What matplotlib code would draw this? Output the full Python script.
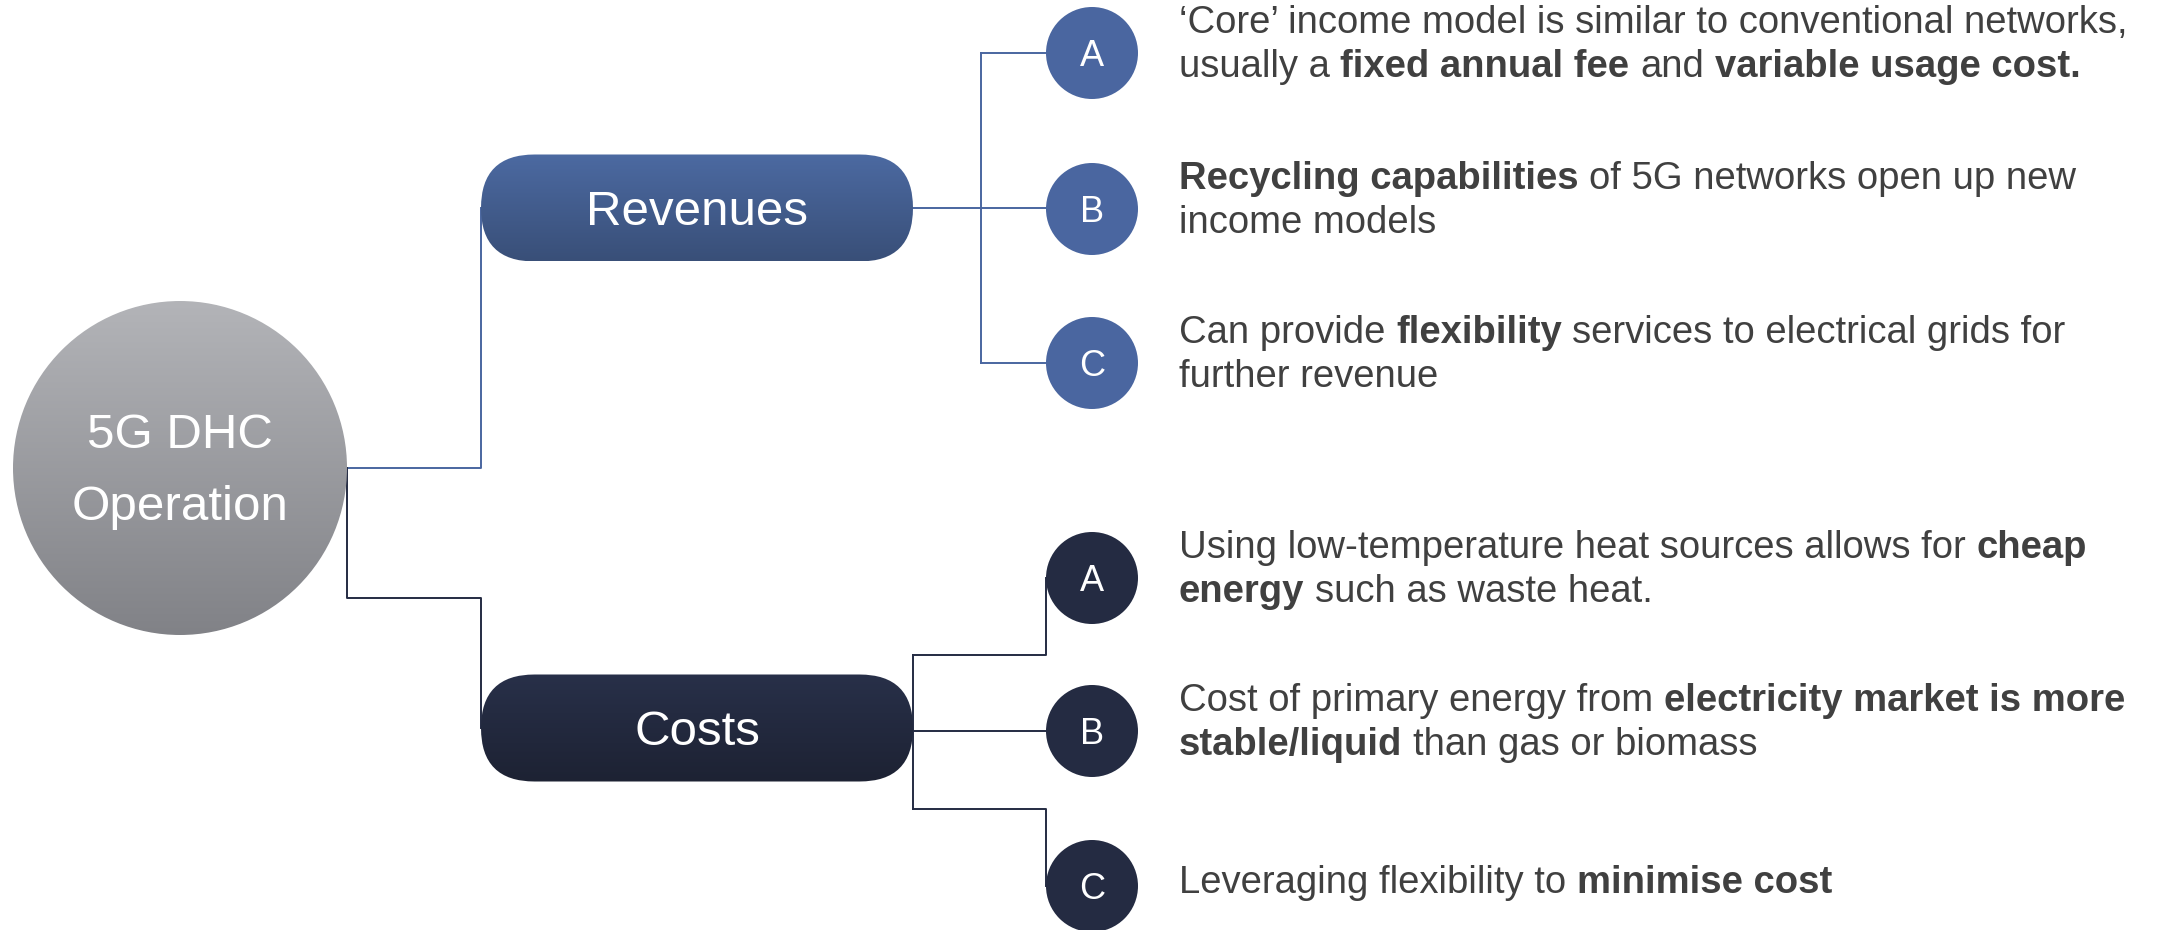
import numpy as np
import matplotlib.pyplot as plt
from matplotlib.patches import Circle, FancyBboxPatch
from matplotlib.colors import LinearSegmentedColormap

plt.rcParams['font.family'] = ['Liberation Sans', 'DejaVu Sans']

# ---- content ----
root_label = ['5G DHC', 'Operation']
branch_labels = ['Revenues', 'Costs']
item_letters = ['A', 'B', 'C']
# **...** marks the bold part of a line
revenue_items = [
    ["\u2018Core\u2019 income model is similar to conventional networks,",
     "usually a **fixed annual fee** and **variable usage cost.**"],
    ["**Recycling capabilities** of 5G networks open up new",
     "income models"],
    ["Can provide **flexibility** services to electrical grids for",
     "further revenue"],
]
cost_items = [
    ["Using low-temperature heat sources allows for **cheap**",
     "**energy** such as waste heat."],
    ["Cost of primary energy from **electricity market is more**",
     "**stable/liquid** than gas or biomass"],
    ["Leveraging flexibility to **minimise cost**"],
]

# ---- layout (pixels) ----
W, H = 2177, 930
root_xy, root_r = (180, 468), 167
pill_x0, pill_x1, pill_h = 481, 913, 107
pill_y = [208, 728]
dot_x, dot_r = 1092, 46
rev_dot_y = [53, 209, 363]
cost_dot_y = [578, 731, 886]
text_x = 1179

blue = '#4a66a0'
navy = '#242b42'
text_col = '#404040'

fig = plt.figure(figsize=(W / 100, H / 100), dpi=100)
ax = fig.add_axes([0, 0, 1, 1])
ax.set_xlim(0, W)
ax.set_ylim(H, 0)
ax.axis('off')


def grad_fill(patch, top, bottom, box, z=3):
    patch.set_facecolor('none')
    patch.set_edgecolor('none')
    patch.set_zorder(z)
    ax.add_patch(patch)
    cmap = LinearSegmentedColormap.from_list('g', [top, bottom])
    grad = np.linspace(0, 1, 256).reshape(-1, 1)
    x0, x1, y0, y1 = box
    im = ax.imshow(grad, cmap=cmap, extent=(x0, x1, y1, y0), aspect='auto',
                   origin='upper', zorder=z)
    im.set_clip_path(patch)


# connectors
lw = 1.4
ax.plot([root_xy[0] + root_r, pill_x0, pill_x0], [root_xy[1], root_xy[1], pill_y[0]],
        color=blue, lw=lw, zorder=1)
ax.plot([root_xy[0] + root_r, root_xy[0] + root_r, pill_x0, pill_x0],
        [root_xy[1], 598, 598, pill_y[1]], color=navy, lw=lw, zorder=1)

# revenues: comb
ax.plot([pill_x1, dot_x], [pill_y[0], pill_y[0]], color=blue, lw=lw, zorder=1)
ax.plot([981, 981], [rev_dot_y[0], rev_dot_y[2]], color=blue, lw=lw, zorder=1)
for yy in (rev_dot_y[0], rev_dot_y[2]):
    ax.plot([981, dot_x], [yy, yy], color=blue, lw=lw, zorder=1)

# costs: elbows
ax.plot([pill_x1, pill_x1], [655, 809], color=navy, lw=lw, zorder=1)
ax.plot([pill_x1, dot_x], [cost_dot_y[1], cost_dot_y[1]], color=navy, lw=lw, zorder=1)
ax.plot([pill_x1, dot_x - dot_r, dot_x - dot_r], [655, 655, cost_dot_y[0]], color=navy, lw=lw, zorder=1)
ax.plot([pill_x1, dot_x - dot_r, dot_x - dot_r], [809, 809, cost_dot_y[2]], color=navy, lw=lw, zorder=1)

# root circle
cx, cy = root_xy
grad_fill(Circle(root_xy, root_r), '#b3b4b8', '#818287',
          (cx - root_r, cx + root_r, cy - root_r, cy + root_r))
ax.text(cx, 448, root_label[0], color='white', fontsize=35.5, ha='center', va='baseline', zorder=5)
ax.text(cx, 520, root_label[1], color='white', fontsize=35.5, ha='center', va='baseline', zorder=5)

# branch pills
pill_cols = [('#4c6aa2', '#394f78'), ('#283049', '#1d2233')]
for label, yc, (c_top, c_bot) in zip(branch_labels, pill_y, pill_cols):
    y0 = yc - pill_h / 2
    pill = FancyBboxPatch((pill_x0, y0), pill_x1 - pill_x0, pill_h,
                          boxstyle=f'round,pad=0,rounding_size={pill_h / 2}')
    grad_fill(pill, c_top, c_bot, (pill_x0, pill_x1, y0, y0 + pill_h))
    ax.text((pill_x0 + pill_x1) / 2, yc + 17, label, color='white', fontsize=35.5,
            ha='center', va='baseline', zorder=5)

# letter dots
for ys, col in ((rev_dot_y, blue), (cost_dot_y, navy)):
    for letter, yy in zip(item_letters, ys):
        ax.add_patch(Circle((dot_x, yy), dot_r, facecolor=col, edgecolor='none', zorder=3))
        ax.text(dot_x, yy + 13, letter, color='white', fontsize=26,
                ha='center', va='baseline', zorder=5)

# rich text
renderer = fig.canvas.get_renderer()
fs = 27.5
t1 = ax.text(0, 0, 'a a', fontsize=fs)
t2 = ax.text(0, 0, 'aa', fontsize=fs)
space_w = t1.get_window_extent(renderer).width - t2.get_window_extent(renderer).width
t1.remove()
t2.remove()


def draw_line(x, y, line):
    parts = line.split('**')
    for i, part in enumerate(parts):
        if not part:
            continue
        x += (len(part) - len(part.lstrip(' '))) * space_w
        word = part.strip(' ')
        t = ax.text(x, y, word, fontsize=fs, color=text_col,
                    fontweight='bold' if i % 2 else 'normal',
                    ha='left', va='baseline', zorder=5)
        x += t.get_window_extent(renderer).width
        x += (len(part) - len(part.rstrip(' '))) * space_w


for items, ys in ((revenue_items, rev_dot_y), (cost_items, cost_dot_y)):
    for lines, yy in zip(items, ys):
        if len(lines) == 1:
            draw_line(text_x, yy + 7, lines[0])
        else:
            for k, line in enumerate(lines):
                draw_line(text_x, yy - 20 + 44 * k, line)

fig.savefig('out.png', dpi=100)
